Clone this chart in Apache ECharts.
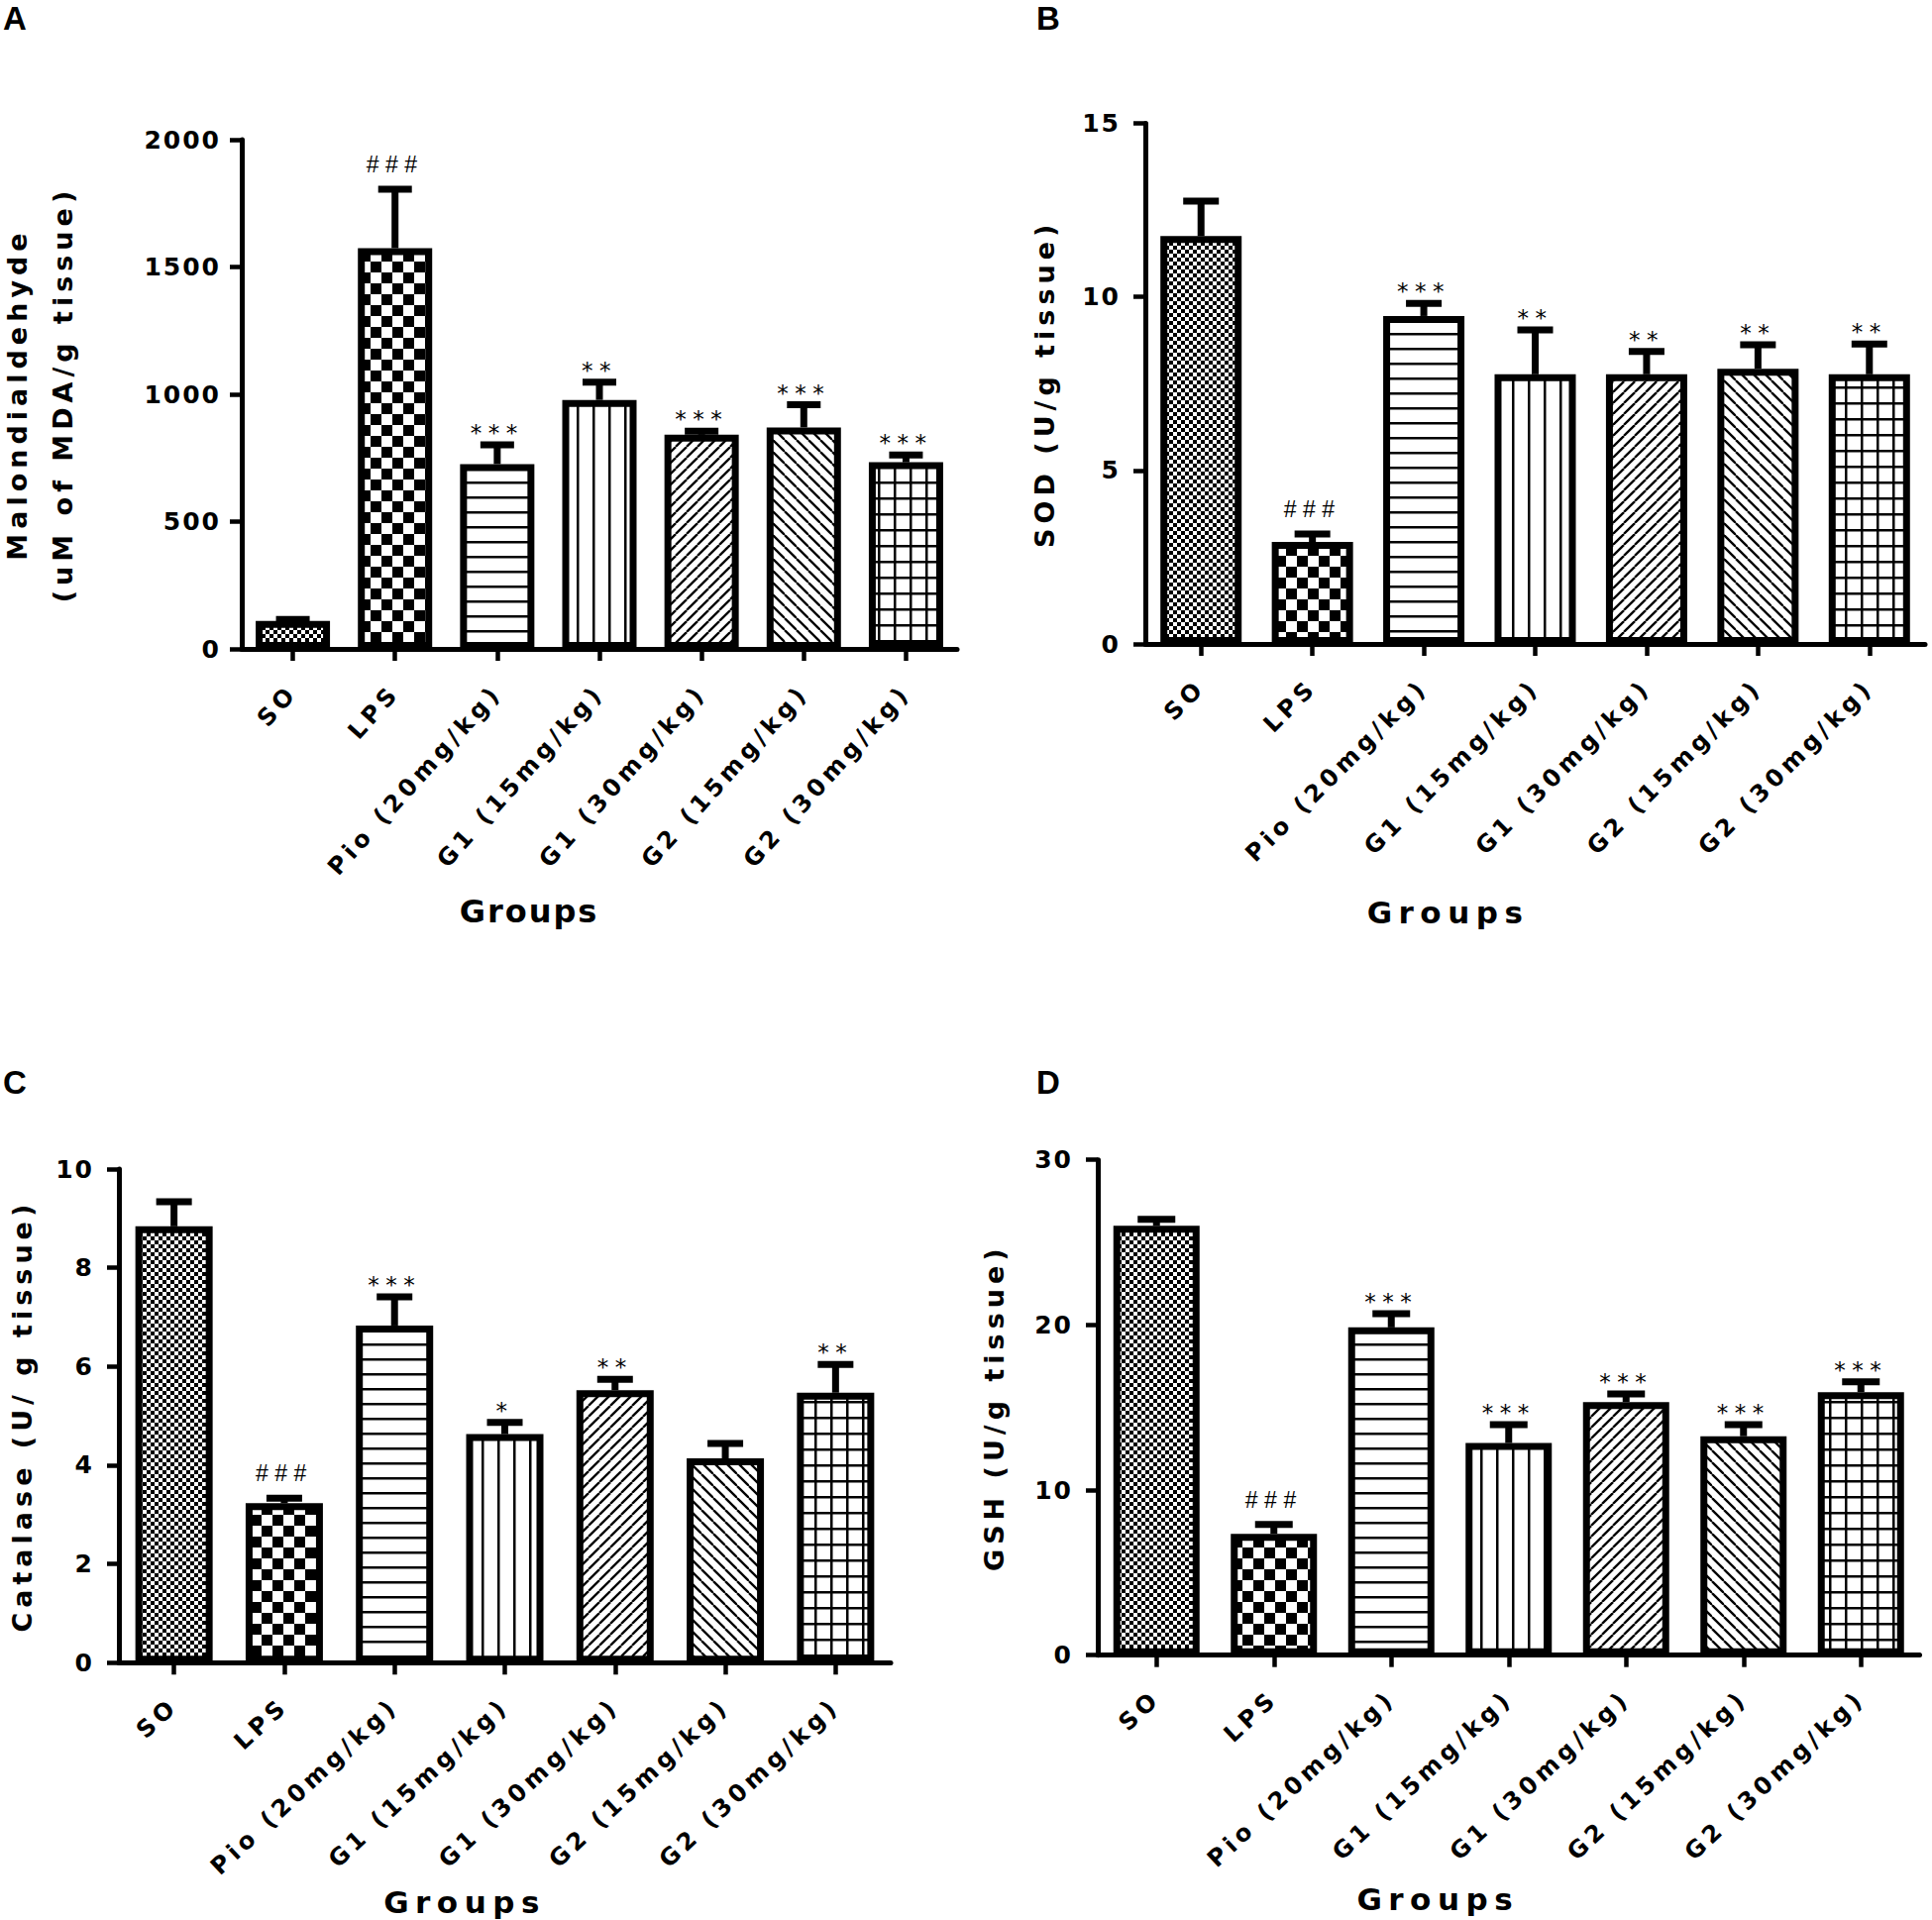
<!DOCTYPE html>
<html>
<head>
<meta charset="utf-8">
<title>Oxidative stress markers by group</title>
<script src="https://cdn.jsdelivr.net/npm/echarts@6.0.0/dist/echarts.min.js"></script>
<style>
html, body { margin: 0; padding: 0; background: #fff; }
#main { width: 1950px; height: 1938px; }
/* letter spacing of the original figure, keyed on font size */
#main text[style*="25px"] { letter-spacing: 2px; }
#main text[style*="24px"] { letter-spacing: 4.5px; }
#main text[style*="23px"] { letter-spacing: 6.5px; }
#main text[style*="27px"] { letter-spacing: 5px; }
#main text[style*="32px"] { letter-spacing: 2px; }
#main text[style*="31px"] { letter-spacing: 6.5px; }
</style>
</head>
<body>
<div id="main"></div>
<script>
var groups = ['SO', 'LPS', 'Pio (20mg/kg)', 'G1 (15mg/kg)', 'G1 (30mg/kg)', 'G2 (15mg/kg)', 'G2 (30mg/kg)'];

// A - malondialdehyde
var mdaMean = [110, 1574, 726, 978, 841, 870, 733];
var mdaErr = [6, 231, 76, 70, 14, 89, 29];
var mdaSig = ['', '###', '***', '**', '***', '***', '***'];

// B - SOD
var sodMean = [11.75, 2.94, 9.45, 7.77, 7.77, 7.93, 7.77];
var sodErr = [1.01, 0.23, 0.36, 1.28, 0.66, 0.69, 0.87];
var sodSig = ['', '###', '***', '**', '**', '**', '**'];

// C - catalase
var catMean = [8.84, 3.23, 6.83, 4.63, 5.52, 4.14, 5.47];
var catErr = [0.5, 0.1, 0.58, 0.24, 0.22, 0.3, 0.57];
var catSig = ['', '###', '***', '*', '**', '', '**'];

// D - GSH
var gshMean = [26.0, 7.35, 19.85, 12.85, 15.33, 13.26, 15.93];
var gshErr = [0.4, 0.56, 0.83, 1.11, 0.49, 0.7, 0.63];
var gshSig = ['', '###', '***', '***', '***', '***', '***'];

// hatch tiles, one per group
function tile(size, draw) {
    var c = document.createElement('canvas');
    c.width = size; c.height = size;
    var g = c.getContext('2d');
    g.fillStyle = '#fff'; g.fillRect(0, 0, size, size);
    g.fillStyle = '#000'; g.strokeStyle = '#000';
    draw(g, size);
    return { image: c, repeat: 'repeat', imageWidth: size, imageHeight: size };
}
var fills = [
    tile(8, function (g) { g.fillRect(0, 0, 4, 4); g.fillRect(4, 4, 4, 4); }),
    tile(22, function (g) { g.fillRect(0, 0, 11, 11); g.fillRect(11, 11, 11, 11); }),
    tile(15, function (g, s) { g.fillRect(0, 6, s, 2.5); }),
    tile(16, function (g, s) { g.fillRect(6, 0, 2.5, s); }),
    tile(11, function (g, s) {
        g.lineWidth = 2.3;
        for (var k = -1; k <= 1; k++) { g.beginPath(); g.moveTo(k * s, s); g.lineTo(k * s + s, 0); g.stroke(); }
    }),
    tile(12, function (g, s) {
        g.lineWidth = 2.3;
        for (var k = -1; k <= 1; k++) { g.beginPath(); g.moveTo(k * s, 0); g.lineTo(k * s + s, s); g.stroke(); }
    }),
    tile(16, function (g, s) { g.fillRect(6, 0, 2.5, s); g.fillRect(0, 6, s, 2.5); })
];

var panels = [
    { letter: 'A', lx: 3, ly: 2, grid: { left: 244, top: 141, width: 722, height: 514 },
      max: 2000, step: 500, mean: mdaMean, err: mdaErr, sig: mdaSig,
      name: 'Malondialdehyde\n(uM of MDA/g tissue)', nameGap: 157, lineHeight: 46.6,
      margin: 21, barWidth: 75, cap: 17, rotate: 48, groupsGap: 249, groupsShift: 142, groupsSize: 32 },
    { letter: 'B', lx: 1046, ly: 2, grid: { left: 1156, top: 124.5, width: 787, height: 525.5 },
      max: 15, step: 5, mean: sodMean, err: sodErr, sig: sodSig,
      name: 'SOD (U/g tissue)', nameGap: 88,
      margin: 25, barWidth: 82, cap: 18, rotate: 45, groupsGap: 255, groupsShift: 176, groupsSize: 31 },
    { letter: 'C', lx: 3, ly: 1076, grid: { left: 120, top: 1180, width: 779, height: 498.3 },
      max: 10, step: 2, mean: catMean, err: catErr, sig: catSig,
      name: 'Catalase (U/ g tissue)', nameGap: 84,
      margin: 25, barWidth: 78, cap: 18, rotate: 43, groupsGap: 226, groupsShift: 81, groupsSize: 31 },
    { letter: 'D', lx: 1046, ly: 1076, grid: { left: 1108, top: 1170.7, width: 829.5, height: 500 },
      max: 30, step: 10, mean: gshMean, err: gshErr, sig: gshSig,
      name: 'GSH (U/g tissue)', nameGap: 91,
      margin: 25, barWidth: 87, cap: 19, rotate: 43, groupsGap: 231, groupsShift: 143, groupsSize: 31 }
];

function errorBars(p) {
    return function (params, api) {
        var k = api.value(0), m = api.value(1), e = api.value(2);
        var base = api.coord([k, m]);
        var top = api.coord([k, m + e]);
        var s = p.sig[params.dataIndex];
        var children = [
            { type: 'line', shape: { x1: top[0], y1: base[1], x2: top[0], y2: top[1] },
              style: { stroke: '#000', lineWidth: 7 } },
            { type: 'line', shape: { x1: top[0] - p.cap, y1: top[1], x2: top[0] + p.cap, y2: top[1] },
              style: { stroke: '#000', lineWidth: 7 } }
        ];
        if (s) {
            // hashes sit higher above the cap than the asterisks do
            var hash = s.charAt(0) === '#';
            children.push({ type: 'text', x: top[0], y: top[1] - (hash ? 25 : 12),
                style: { text: s, fill: '#000', fontSize: 23,
                         fontFamily: hash ? 'Liberation Sans' : 'DejaVu Sans',
                         align: 'center', verticalAlign: 'middle' } });
        }
        return { type: 'group', children: children };
    };
}

var boldFont = 'DejaVu Sans';
var option = {
    animation: false,
    backgroundColor: '#fff',
    title: panels.map(function (p) {
        return { text: p.letter, left: p.lx, top: p.ly, padding: 0,
                 textStyle: { fontSize: 33, fontWeight: 'bold', fontFamily: 'Liberation Sans', color: '#000' } };
    }),
    grid: panels.map(function (p) {
        return { left: p.grid.left, top: p.grid.top, width: p.grid.width, height: p.grid.height,
                 containLabel: false, outerBoundsMode: 'none' };
    }),
    xAxis: panels.map(function (p, i) {
        return {
            gridIndex: i, type: 'category', data: groups,
            name: 'Groups', nameLocation: 'middle', nameGap: p.groupsGap, nameMoveOverlap: false,
            nameTextStyle: { fontSize: p.groupsSize, fontWeight: 'bold', fontFamily: boldFont, color: '#000',
                             padding: [0, p.groupsShift, 0, 0] },
            axisLine: { show: true, lineStyle: { color: '#000', width: 5 } },
            axisTick: { show: true, alignWithLabel: true, length: 12, lineStyle: { color: '#000', width: 4.5 } },
            axisLabel: { interval: 0, rotate: p.rotate, margin: 40, fontSize: 24, fontWeight: 'bold',
                         fontFamily: boldFont, color: '#000' },
            splitLine: { show: false }
        };
    }),
    yAxis: panels.map(function (p, i) {
        var nts = { fontSize: 27, fontWeight: 'bold', fontFamily: boldFont, color: '#000' };
        if (p.lineHeight) nts.lineHeight = p.lineHeight;
        return {
            gridIndex: i, type: 'value', min: 0, max: p.max, interval: p.step,
            name: p.name, nameLocation: 'middle', nameGap: p.nameGap, nameRotate: 90, nameMoveOverlap: false,
            nameTextStyle: nts,
            axisLine: { show: true, lineStyle: { color: '#000', width: 5 } },
            axisTick: { show: true, length: 12, lineStyle: { color: '#000', width: 4.5 } },
            axisLabel: { margin: p.margin, fontSize: 25, fontWeight: 'bold', fontFamily: boldFont, color: '#000',
                         formatter: function (v) { return String(v); } },
            splitLine: { show: false }
        };
    }),
    series: []
};

panels.forEach(function (p, i) {
    option.series.push({
        type: 'bar', xAxisIndex: i, yAxisIndex: i, barWidth: p.barWidth, silent: true, z: 2,
        emphasis: { disabled: true },
        itemStyle: { borderColor: '#000', borderWidth: 7 },
        data: p.mean.map(function (v, k) { return { value: v, itemStyle: { color: fills[k] } }; })
    });
    option.series.push({
        type: 'custom', xAxisIndex: i, yAxisIndex: i, silent: true, z: 3,
        data: p.mean.map(function (v, k) { return [k, v, p.err[k]]; }),
        renderItem: errorBars(p)
    });
});

var chart = echarts.init(document.getElementById('main'), null, { renderer: 'svg', width: 1950, height: 1938 });
chart.setOption(option);
</script>
</body>
</html>
